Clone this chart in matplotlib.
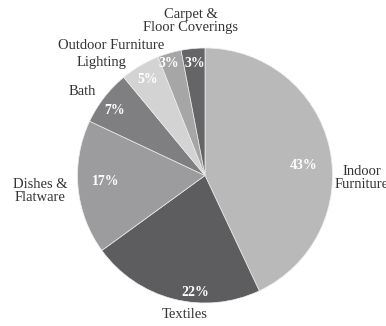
import matplotlib
matplotlib.use("Agg")
import matplotlib.pyplot as plt

# slice data (clockwise from 12 o'clock)
categories = ["Indoor\nFurniture", "Textiles", "Dishes &\nFlatware", "Bath",
              "Outdoor Furniture", "Lighting", "Carpet &\nFloor Coverings"]
shares = [43, 22, 17, 7, 5, 3, 3]
colors = ["#b9b9b9", "#5d5d5f", "#9c9c9e", "#7f7f81", "#d3d3d3", "#a6a6a6", "#656567"]

# label placement (pie radius = 1)
label_pos = [(1.23, -0.02), (-0.16, -1.09), (-1.29, -0.12), (-0.96, 0.66),
             (-0.74, 1.02), (-0.81, 0.89), (-0.11, 1.21)]
pct_pos = [(0.77, 0.08), (-0.08, -0.92), (-0.78, -0.05), (-0.71, 0.51),
           (-0.45, 0.75), (-0.28, 0.88), (-0.08, 0.88)]

W, H = 386, 326
cx, cy, R = 205, 175.5, 127.5

fig = plt.figure(figsize=(W / 100, H / 100), dpi=100)
ax = fig.add_axes([0, 0, 1, 1])

wedges, texts, autotexts = ax.pie(
    shares, colors=colors, startangle=90, counterclock=False,
    autopct="%d%%", radius=1,
    wedgeprops=dict(edgecolor="#eeeeee", linewidth=0.5),
    textprops=dict(family="Liberation Serif"))

for t, p in zip(autotexts, pct_pos):
    t.set_position(p)
    t.set_color("white")
    t.set_fontweight("bold")
    t.set_fontsize(10)
    t.set_ha("center")
    t.set_va("center")

for lab, p in zip(categories, label_pos):
    ax.text(p[0], p[1], lab, ha="center", va="center", fontsize=10.5,
            family="Liberation Serif", color="#333333", linespacing=0.95)

ax.set_aspect("equal")
ax.set_xlim(-cx / R, (W - cx) / R)
ax.set_ylim(-(H - cy) / R, cy / R)
ax.axis("off")

fig.savefig("out.png", dpi=100)
